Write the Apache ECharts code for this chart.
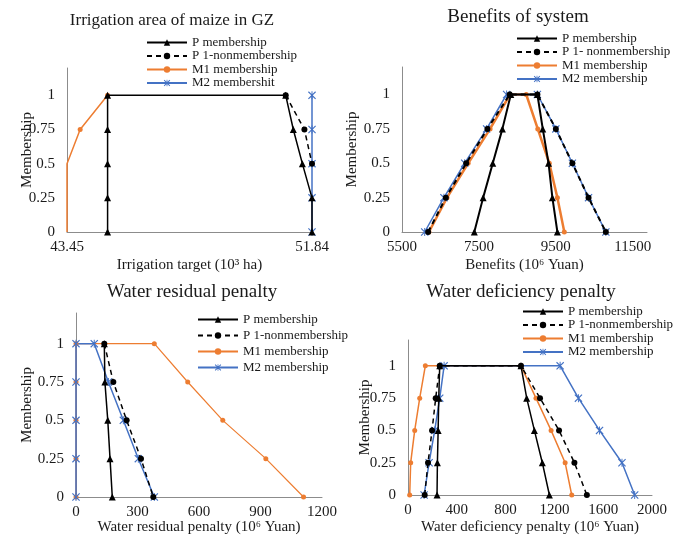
<!DOCTYPE html>
<html lang="en">
<head>
<meta charset="utf-8" />
<script src="https://cdn.jsdelivr.net/npm/echarts@6/dist/echarts.min.js"></script>
<title>Membership functions</title>
<style>
  html, body { margin: 0; padding: 0; background: #fff; }
  #main { width: 683px; height: 540px; }
</style>
</head>
<body>
<div id="main"></div>
<script>
// ---- data ----
var titles = ['Irrigation area of maize in GZ', 'Benefits of system', 'Water residual penalty', 'Water deficiency penalty'];
var xNames = ['Irrigation target (10\u00b3 ha)', 'Benefits (10\u2076 Yuan)', 'Water residual penalty (10\u2076 Yuan)', 'Water deficiency penalty (10\u2076 Yuan)'];
var legend1 = ['P membership', 'P 1-nonmembership', 'M1 membership', 'M2 membershit'];
var legend2 = ['P membership', 'P 1- nonmembership', 'M1 membership', 'M2 membership'];
var legend3 = ['P membership', 'P 1-nonmembership', 'M1 membership', 'M2 membership'];
var legend4 = ['P membership', 'P 1-nonmembership', 'M1 membership', 'M2 membership'];

// panel 1 : irrigation area
var a_PX = [44.84, 44.84, 44.84, 44.84, 44.84, 50.94, 51.20, 51.51, 51.84, 51.84];
var a_PY = [0, 0.25, 0.5, 0.75, 1, 1, 0.75, 0.5, 0.25, 0];
var a_NX = [50.94, 51.58, 51.84];
var a_NY = [1, 0.75, 0.5];
var a_M1X = [43.45, 43.45, 43.90, 44.84];
var a_M1Y = [0, 0.5, 0.75, 1];
var a_M2X = [51.84, 51.84, 51.84, 51.84, 51.84];
var a_M2Y = [0, 0.25, 0.5, 0.75, 1];

// panel 2 : benefits
var b_PX = [7380, 7610, 7860, 8110, 8330, 9020, 9160, 9310, 9410, 9540];
var b_PY = [0, 0.25, 0.5, 0.75, 1, 1, 0.75, 0.5, 0.25, 0];
var b_NX = [6180, 6640, 7170, 7720, 8300, 9020, 9500, 9930, 10350, 10800];
var b_NY = [0, 0.25, 0.5, 0.75, 1, 1, 0.75, 0.5, 0.25, 0];
var b_M1X = [6200, 6670, 7220, 7790, 8310, 8730, 9030, 9330, 9540, 9720];
var b_M1Y = [0, 0.25, 0.5, 0.75, 1, 1, 0.75, 0.5, 0.25, 0];
var b_M2X = [6090, 6590, 7130, 7700, 8220, 9020, 9500, 9930, 10350, 10800];
var b_M2Y = [0, 0.25, 0.5, 0.75, 1, 1, 0.75, 0.5, 0.25, 0];

// panel 3 : water residual penalty
var c_PX = [138, 141, 155, 166, 177];
var c_PY = [1, 0.75, 0.5, 0.25, 0];
var c_NX = [138, 182, 247, 317, 377];
var c_NY = [1, 0.75, 0.5, 0.25, 0];
var c_M1X = [0, 0, 0, 0, 0, 382, 545, 716, 926, 1110];
var c_M1Y = [0, 0.25, 0.5, 0.75, 1, 1, 0.75, 0.5, 0.25, 0];
var c_M2X = [0, 0, 0, 0, 0, 89, 158, 231, 304, 382];
var c_M2Y = [0, 0.25, 0.5, 0.75, 1, 1, 0.75, 0.5, 0.25, 0];

// panel 4 : water deficiency penalty
var d_PX = [238, 241, 247, 252, 260, 926, 973, 1036, 1101, 1159];
var d_PY = [0, 0.25, 0.5, 0.75, 1, 1, 0.75, 0.5, 0.25, 0];
var d_NX = [137, 164, 197, 227, 260, 926, 1082, 1238, 1364, 1466];
var d_NY = [0, 0.25, 0.5, 0.75, 1, 1, 0.75, 0.5, 0.25, 0];
var d_M1X = [14, 22, 55, 96, 142, 926, 1049, 1173, 1288, 1342];
var d_M1Y = [0, 0.25, 0.5, 0.75, 1, 1, 0.75, 0.5, 0.25, 0];
var d_M2X = [132, 173, 219, 260, 296, 1247, 1397, 1570, 1754, 1858];
var d_M2Y = [0, 0.25, 0.5, 0.75, 1, 1, 0.75, 0.5, 0.25, 0];

// ---- styling ----
var serif = 'Liberation Serif';
var black = '#000000', orange = '#ED7D31', blue = '#4472C4';
var starPath = 'path://M0,1L1,0L5,4L9,0L10,1L6,5L10,9L9,10L5,6L1,10L0,9L4,5Z M4.4,0L5.6,0L5.6,10L4.4,10Z';

function pairs(xs, ys, noMark) {
	return xs.map(function (x, i) {
		if (noMark && noMark.indexOf(i) >= 0) {
			return { value: [x, ys[i]], symbol: 'none' };
		}
		return [x, ys[i]];
	});
}

function line(name, xs, ys, idx, kind, lw, noMark) {
	var s = {
		name: name,
		type: 'line',
		xAxisIndex: idx,
		yAxisIndex: idx,
		data: pairs(xs, ys, noMark),
		clip: false,
		animation: false,
		showAllSymbol: true,
		lineStyle: { width: lw },
		z: 3
	};
	if (kind === 'P') {
		s.color = black; s.symbol = 'triangle'; s.symbolSize = 7; s.z = 4;
	} else if (kind === 'N') {
		s.color = black; s.symbol = 'circle'; s.symbolSize = 6;
		s.lineStyle = { width: lw, type: [5, 4] }; s.z = 5;
	} else if (kind === 'M1') {
		s.color = orange; s.symbol = 'circle'; s.symbolSize = 5;
	} else {
		s.color = blue; s.symbol = starPath; s.symbolSize = 8;
	}
	return s;
}

var grids = [
	{ left: 67, top: 68, width: 245, height: 164 },
	{ left: 402, top: 67, width: 245, height: 165 },
	{ left: 76, top: 313, width: 246, height: 184 },
	{ left: 408, top: 340, width: 244, height: 155 }
];
grids.forEach(function (g) { g.outerBoundsMode = 'none'; });

var xRanges = [[43.45, 51.84, 100], [5500, 11870, 2000], [0, 1200, 300], [0, 2000, 400]];
var xShowMax = [true, false, true, true];
var xNameGaps = [26, 26, 23, 25];
var yNameGaps = [32, 42, 41, 35];

var xAxes = xRanges.map(function (r, i) {
	return {
		type: 'value', gridIndex: i, min: r[0], max: r[1], interval: r[2],
		name: xNames[i], nameLocation: 'middle', nameGap: xNameGaps[i], nameMoveOverlap: false,
		nameTextStyle: { fontFamily: serif, fontSize: 15, color: '#1a1a1a' },
		axisLine: { show: true, onZero: false, lineStyle: { color: '#8c8c8c', width: 1 } },
		axisTick: { show: false },
		splitLine: { show: false },
		axisLabel: {
			fontFamily: serif, fontSize: 15, color: '#1a1a1a', margin: 8,
			showMaxLabel: xShowMax[i], showMinLabel: true,
			formatter: function (v) { return String(v); }
		}
	};
});

var yAxes = [0, 1, 2, 3].map(function (i) {
	return {
		type: 'value', gridIndex: i, min: 0, max: 1.2, interval: 0.25,
		name: 'Membership', nameLocation: 'middle', nameGap: yNameGaps[i], nameRotate: 90,
		nameMoveOverlap: false,
		nameTextStyle: { fontFamily: serif, fontSize: 15, color: '#1a1a1a' },
		axisLine: { show: true, lineStyle: { color: '#8c8c8c', width: 1 } },
		axisTick: { show: false },
		splitLine: { show: false },
		axisLabel: { fontFamily: serif, fontSize: 15, color: '#1a1a1a', margin: 12, showMaxLabel: false }
	};
});

var titleSpots = [[172, 12, 17], [518, 8, 19], [192, 283, 19], [521, 283, 19]];
var titleOpts = titles.map(function (t, i) {
	return {
		text: t, left: titleSpots[i][0], top: titleSpots[i][1], textAlign: 'center', padding: 0,
		textStyle: { fontFamily: serif, fontSize: titleSpots[i][2], fontWeight: 'normal', color: '#1a1a1a' }
	};
});

var legendSpots = [[146, 36, 0.5, legend1], [516, 32, 0.5, legend2], [197, 313, 3, legend3], [522, 305, 0.5, legend4]];
var legendOpts = legendSpots.map(function (l) {
	return {
		data: l[3], orient: 'vertical', left: l[0], top: l[1], itemGap: l[2], padding: 0,
		itemWidth: 40, itemHeight: 8, selectedMode: false,
		textStyle: { fontFamily: serif, fontSize: 13, color: '#1a1a1a', lineHeight: 13 }
	};
});

var series = [
	line(legend1[2], a_M1X, a_M1Y, 0, 'M1', 1.5, [0, 1]),
	line(legend1[0], a_PX, a_PY, 0, 'P', 1.5),
	line(legend1[1], a_NX, a_NY, 0, 'N', 1.5),
	line(legend1[3], a_M2X, a_M2Y, 0, 'M2', 1.5),

	line(legend2[0], b_PX, b_PY, 1, 'P', 2),
	line(legend2[1], b_NX, b_NY, 1, 'N', 2),
	line(legend2[2], b_M1X, b_M1Y, 1, 'M1', 2.5),
	line(legend2[3], b_M2X, b_M2Y, 1, 'M2', 1.5),

	line(legend3[2], c_M1X, c_M1Y, 2, 'M1', 1.2),
	line(legend3[0], c_PX, c_PY, 2, 'P', 1.5),
	line(legend3[1], c_NX, c_NY, 2, 'N', 1.5),
	line(legend3[3], c_M2X, c_M2Y, 2, 'M2', 1.5),

	line(legend4[0], d_PX, d_PY, 3, 'P', 1.5),
	line(legend4[1], d_NX, d_NY, 3, 'N', 1.5),
	line(legend4[2], d_M1X, d_M1Y, 3, 'M1', 1.5),
	line(legend4[3], d_M2X, d_M2Y, 3, 'M2', 1.5)
];

var chart = echarts.init(document.getElementById('main'), null, { renderer: 'canvas' });
chart.setOption({
	backgroundColor: '#ffffff',
	animation: false,
	title: titleOpts,
	legend: legendOpts,
	grid: grids,
	xAxis: xAxes,
	yAxis: yAxes,
	series: series
});
</script>
</body>
</html>
